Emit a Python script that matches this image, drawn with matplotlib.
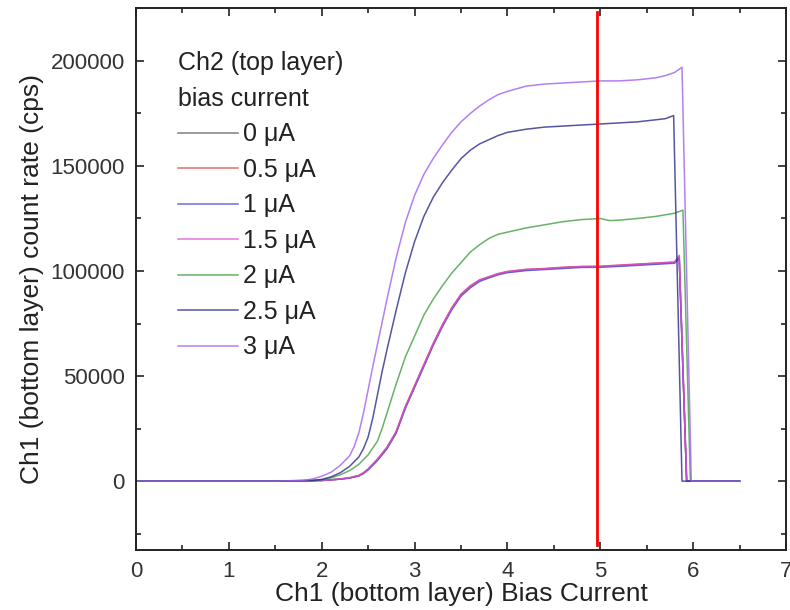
import matplotlib
matplotlib.use('Agg')
import matplotlib.pyplot as plt
from matplotlib.ticker import MultipleLocator

plt.rcParams['font.family'] = ['Liberation Sans', 'DejaVu Sans']

# Ch2 (top layer) bias current labels
labels = ['0 \u03bcA', '0.5 \u03bcA', '1 \u03bcA', '1.5 \u03bcA', '2 \u03bcA', '2.5 \u03bcA', '3 \u03bcA']

# low group (0 .. 1.5 uA) - nearly identical curves
x_low = [0, 1.5, 2.0, 2.1, 2.2, 2.3, 2.4, 2.45, 2.5, 2.6, 2.7, 2.8, 2.9, 3.0, 3.1, 3.2, 3.3, 3.4,
         3.5, 3.6, 3.7, 3.8, 3.9, 4.0, 4.2, 4.4, 4.6, 4.8, 5.0, 5.2, 5.4, 5.6, 5.8, 5.85, 5.93, 6.5]
y_0uA = [0, 0, 300, 600, 1000, 1500, 2600, 3800, 5500, 10000, 15500, 23000, 35000, 45000, 55000,
         65000, 74000, 82000, 88500, 92500, 95500, 97000, 98500, 99500, 100500, 101000, 101500,
         102000, 102000, 102500, 103000, 103500, 104000, 106500, 0, 0]
y_05uA = [0, 0, 300, 600, 1000, 1600, 2700, 4000, 5800, 10500, 16000, 23500, 35500, 45500, 55500,
          65500, 74500, 82500, 89000, 93000, 95800, 97300, 98800, 99800, 100800, 101200, 101800,
          102200, 102300, 102800, 103300, 103800, 104300, 107000, 0, 0]
y_1uA = [0, 0, 300, 600, 900, 1400, 2400, 3600, 5300, 9800, 15200, 22600, 34500, 44500, 54500,
         64500, 73500, 81500, 88000, 92000, 95000, 96700, 98200, 99200, 100200, 100700, 101200,
         101700, 101800, 102200, 102700, 103200, 103700, 106000, 0, 0]
y_15uA = [0, 0, 300, 600, 1000, 1600, 2600, 3900, 5700, 10300, 15800, 23300, 35200, 45200, 55200,
          65200, 74200, 82200, 88800, 92800, 95700, 97200, 98700, 99700, 100700, 101100, 101700,
          102100, 102200, 102700, 103200, 103700, 104200, 107500, 0, 0]

x_2uA = [0, 1.5, 2.0, 2.1, 2.2, 2.3, 2.4, 2.5, 2.6, 2.65, 2.7, 2.8, 2.9, 3.0, 3.1, 3.2, 3.3, 3.4,
         3.5, 3.6, 3.7, 3.8, 3.9, 4.0, 4.2, 4.4, 4.6, 4.8, 5.0, 5.1, 5.2, 5.4, 5.6, 5.8, 5.89, 5.97, 6.5]
y_2uA = [0, 0, 600, 1500, 3000, 5000, 8000, 12500, 19000, 25000, 32000, 46000, 59000, 69000, 79000,
         86500, 93000, 99000, 104000, 109000, 112500, 115500, 117500, 118500, 120500, 122000,
         123500, 124500, 125000, 124000, 124200, 125000, 126000, 127500, 129000, 0, 0]

x_25uA = [0, 1.5, 1.9, 2.0, 2.1, 2.2, 2.3, 2.4, 2.45, 2.5, 2.55, 2.6, 2.65, 2.7, 2.8, 2.9, 3.0, 3.1,
          3.2, 3.3, 3.4, 3.5, 3.6, 3.7, 3.8, 3.9, 4.0, 4.2, 4.4, 4.6, 4.8, 5.0, 5.2, 5.4, 5.6, 5.7,
          5.79, 5.88, 6.5]
y_25uA = [0, 0, 200, 800, 2000, 4000, 7000, 11500, 15500, 21000, 30000, 41000, 52000, 62000, 81000,
          99000, 114000, 126000, 135000, 142000, 148000, 153500, 157500, 160500, 162500, 164500,
          166000, 167500, 168500, 169000, 169500, 170000, 170500, 171000, 172000, 172500, 174000, 0, 0]

x_3uA = [0, 1.5, 1.8, 1.9, 2.0, 2.1, 2.2, 2.3, 2.35, 2.4, 2.45, 2.5, 2.55, 2.6, 2.7, 2.8, 2.9, 3.0,
         3.1, 3.2, 3.3, 3.4, 3.5, 3.6, 3.7, 3.8, 3.9, 4.0, 4.2, 4.4, 4.6, 4.8, 5.0, 5.2, 5.4, 5.6,
         5.7, 5.8, 5.88, 5.98, 6.5]
y_3uA = [0, 0, 300, 1000, 2300, 4200, 7500, 12000, 16500, 23000, 32500, 43500, 54500, 65000, 86000,
         106000, 123000, 136000, 146000, 153500, 160000, 166000, 171000, 175000, 178500, 181500,
         184000, 185500, 188000, 189000, 189500, 190000, 190500, 190500, 191000, 192000, 193000,
         194500, 197000, 0, 0]

marker_x = 4.96  # red vertical line

colors = ['#606060', '#e04848', '#4848d8', '#d850d8', '#40a040', '#2c2c88', '#a060f0']

fig = plt.figure(figsize=(7.9, 6.1), dpi=100)
ax = fig.add_axes([136 / 790, 1 - 550 / 610, 650 / 790, 542 / 610])

series = [(x_low, y_0uA), (x_low, y_05uA), (x_low, y_1uA), (x_low, y_15uA),
          (x_2uA, y_2uA), (x_25uA, y_25uA), (x_3uA, y_3uA)]
for (xs, ys), c, lab in zip(series, colors, labels):
    ax.plot(xs, ys, color=c, lw=1.1, alpha=0.8, label=lab)

ax.axvline(marker_x, ymin=0.01, ymax=0.993, color='#ff0000', lw=2)

ax.set_xlim(0, 7)
ax.set_ylim(-32800, 225200)
ax.xaxis.set_major_locator(MultipleLocator(1))
ax.xaxis.set_minor_locator(MultipleLocator(0.5))
ax.yaxis.set_major_locator(MultipleLocator(50000))
ax.yaxis.set_minor_locator(MultipleLocator(25000))
ax.tick_params(which='both', direction='in', top=True, right=True, width=1.2, colors='#222222')
ax.tick_params(which='major', length=6)
ax.tick_params(which='minor', length=3.5)
ax.tick_params(axis='x', labelsize=16, pad=8, labelcolor='#333333')
ax.tick_params(axis='y', labelsize=16, pad=8, labelcolor='#333333')
for s in ax.spines.values():
    s.set_linewidth(1.4)
    s.set_color('#222222')

ax.set_xlabel('Ch1 (bottom layer) Bias Current', fontsize=19, color='#222222', labelpad=0)
ax.set_ylabel('Ch1 (bottom layer) count rate (cps)', fontsize=19, color='#222222', labelpad=5)

leg = ax.legend(title='Ch2 (top layer)\nbias current', loc='upper left',
                bbox_to_anchor=(0.03, 0.962), frameon=False, fontsize=18, title_fontsize=18,
                handlelength=2.4, handletextpad=0.2, labelspacing=0.46, alignment='left')
leg.get_title().set_linespacing(1.62)
for t in leg.get_texts():
    t.set_color('#222222')
leg.get_title().set_color('#222222')

fig.savefig('out.png', dpi=100)
